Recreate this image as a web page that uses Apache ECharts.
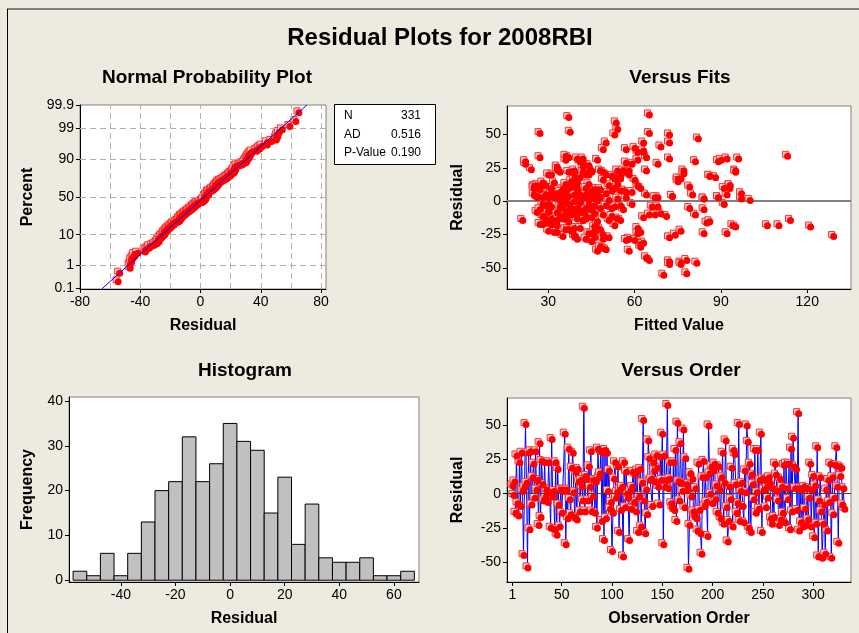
<!DOCTYPE html>
<html><head><meta charset="utf-8">
<script src="https://cdn.jsdelivr.net/npm/echarts@6/dist/echarts.min.js"></script>
<style>html,body{margin:0;padding:0;background:#EDEAE0}#c{width:859px;height:633px}</style>
</head><body><div id="c"></div>
<script>
const residuals = [
 6, -1, 9, -14, 28, -7, -16, 23, -9, 30,
 2, -45, 5, 51, 8, -54, 30, -26, 31, -8,
 12, 22, -3, 31, 3, 10, -23, 37, -17, 24,
 7, -5, 23, -2, 3, -6, 23, 1, -25, 40,
 -2, 2, -26, 23, -30, 18, -8, -24, 3, -14,
 2, 3, 44, -37, 3, -18, 33, -4, -15, 19,
 30, 1, -17, 16, -19, 18, 9, -13, 10, 5,
 -5, 63, -13, 13, 11, -5, 20, 5, 31, -13,
 -2, 10, -14, 9, -25, 33, 12, 15, 31, -20,
 30, -34, 32, -18, 30, 2, 17, -11, -6, -42,
 -14, 11, 23, -3, 1, 20, -28, 3, -12, 5,
 -46, 23, -10, 16, 0, -3, -34, 2, -11, 5,
 16, -6, 14, -13, 17, -28, -2, 18, -24, 8,
 54, -5, -29, 3, -15, 39, 26, 10, 11, -9,
 23, 17, 9, 28, 19, 5, -8, 27, 10, 44,
 -37, 28, 5, 10, 65, 4, 11, 23, -7, -10,
 23, -12, 32, -20, 52, 9, -5, 37, 8, 2,
 47, -10, 26, 7, 3, -55, -23, 15, -2, 11,
 -13, -16, 4, -18, -27, 22, -12, -29, -44, 12,
 24, -9, 12, -6, -31, 50, 15, 0, 20, -7,
 17, 22, -4, 6, -14, 20, 3, -18, 12, 30,
 -22, 8, 39, -10, -35, -20, 5, -4, 19, -24,
 32, 29, 7, -14, -7, 51, -20, 2, 8, -9,
 -21, 17, 1, 50, 38, -25, 22, -28, 14, 7,
 -4, 32, -14, 1, 32, -11, 10, 44, -28, 11,
 3, 10, -10, 5, -3, 12, 8, -18, -22, 4,
 -17, 22, 14, 2, -5, -23, 11, -19, 5, -14,
 21, -21, 22, 4, -4, 22, -26, 33, -13, 41,
 20, 4, 18, -12, 59, -27, 4, -21, 3, -24,
 5, -11, -23, 4, -19, -3, 22, -24, 3, 13,
 -32, 6, -22, 34, -46, -5, 12, -13, -47, -22,
 -8, -44, 3, -27, 10, -6, 22, -47, 12, -15,
 -3, 21, 34, 5, -36, 20, 13, 19, -8, 4, -11
];
const fitted = [
 33, 41, 27, 21, 22, 38, 30, 45, 36, 42,
 47, 72, 35, 27, 52, 78, 89, 39, 61, 26,
 29, 38, 44, 36, 57, 40, 32, 63, 28, 24,
 31, 48, 77, 37, 68, 43, 58, 34, 49, 60,
 30, 84, 35, 48, 45, 55, 39, 84, 42, 33,
 46, 89, 50, 47, 28, 53, 27, 66, 37, 86,
 41, 100, 31, 75, 46, 41, 35, 54, 93, 25,
 38, 37, 29, 44, 36, 52, 43, 64, 90, 40,
 59, 31, 114, 47, 39, 64, 26, 38, 47, 41,
 22, 48, 42, 106, 81, 44, 76, 34, 56, 64,
 42, 37, 95, 29, 51, 31, 40, 33, 63, 45,
 76, 39, 81, 60, 39, 50, 62, 36, 43, 80,
 49, 45, 32, 36, 75, 58, 28, 53, 44, 55,
 54, 40, 60, 30, 47, 49, 33, 62, 25, 69,
 54, 39, 46, 68, 55, 92, 33, 44, 53, 63,
 58, 59, 41, 37, 65, 73, 25, 64, 30, 49,
 56, 35, 72, 61, 37.5, 48, 79, 61, 40, 97,
 82, 67, 42, 57, 32, 70, 46, 75, 91, 38,
 43, 85, 26, 110, 72, 95, 34, 57, 78, 93,
 33, 46, 28, 84, 63, 72, 40, 35, 50, 42,
 55, 37, 31, 97, 51, 44, 26, 94, 38, 41,
 30, 45, 57, 65, 49, 39, 29, 53, 86, 45,
 92, 57, 34, 42, 37, 65, 47, 84, 56, 39,
 36, 53, 47, 53, 63, 74, 45, 43, 28, 59,
 34, 96, 55, 44, 40, 71, 25, 72, 49, 79,
 89, 43, 38, 31, 46, 51, 36, 33, 76, 40,
 27, 49, 40, 54, 35, 62, 38, 95, 47, 33,
 39, 48, 57, 37, 68, 44, 129, 37, 31, 69,
 58, 29, 88, 45, 53.5, 46, 41, 37, 32, 61,
 43, 52, 33, 26, 121, 55, 42, 92, 67, 36,
 62, 50, 38, 113, 81.5, 43, 93, 35, 72, 46,
 30, 65, 48, 51, 91, 27, 34, 76, 61, 86,
 44, 77, 36, 39, 50, 30, 54, 52, 41, 73, 28
];
// Histogram (bin centres, frequencies)
const histCenters = [-55,-50,-45,-40,-35,-30,-25,-20,-15,-10,-5,0,5,10,15,20,25,30,35,40,45,50,55,60,65];
const histCounts  = [2,1,6,1,6,13,20,22,32,22,26,35,31,29,15,23,8,17,5,4,4,5,1,1,2];
const histBinWidth = 5;
// Tick labels
const probTicks = [0.1, 1, 10, 50, 90, 99, 99.9];
const probTickLabels = ['0.1', '1', '10', '50', '90', '99', '99.9'];
const probGridLevels = [1, 10, 50, 90, 99];
const normXTicks = [-80, -40, 0, 40, 80];
const normXGrid = [-60, -40, -20, 0, 20, 40, 60, 80];
const fitsXTicks = [30, 60, 90, 120];
const residTicks = [-50, -25, 0, 25, 50];
const histXTicks = [-40, -20, 0, 20, 40, 60];
const histYTicks = [0, 10, 20, 30, 40];
const orderXTicks = [1, 50, 100, 150, 200, 250, 300];
const statsLabels = ['N', 'AD', 'P-Value'];
const statsValues = ['331', '0.516', '0.190'];

function invNorm(p){
 const a=[-3.969683028665376e+01,2.209460984245205e+02,-2.759285104469687e+02,1.383577518672690e+02,-3.066479806614716e+01,2.506628277459239e+00];
 const b=[-5.447609879822406e+01,1.615858368580409e+02,-1.556989798598866e+02,6.680131188771972e+01,-1.328068155288572e+01];
 const c=[-7.784894002430293e-03,-3.223964580411365e-01,-2.400758277161838e+00,-2.549732539343734e+00,4.374664141464968e+00,2.938163982698783e+00];
 const d=[7.784695709041462e-03,3.224671290700398e-01,2.445134137142996e+00,3.754408661907416e+00];
 const pl=0.02425, ph=1-pl; let q,r;
 if(p<pl){q=Math.sqrt(-2*Math.log(p));return (((((c[0]*q+c[1])*q+c[2])*q+c[3])*q+c[4])*q+c[5])/((((d[0]*q+d[1])*q+d[2])*q+d[3])*q+1);}
 if(p<=ph){q=p-0.5;r=q*q;return (((((a[0]*r+a[1])*r+a[2])*r+a[3])*r+a[4])*r+a[5])*q/(((((b[0]*r+b[1])*r+b[2])*r+b[3])*r+b[4])*r+1);}
 q=Math.sqrt(-2*Math.log(1-p));return -(((((c[0]*q+c[1])*q+c[2])*q+c[3])*q+c[4])*q+c[5])/((((d[0]*q+d[1])*q+d[2])*q+d[3])*q+1);
}

const n = residuals.length;
const sorted = residuals.slice().sort((a,b)=>a-b);
const probData = sorted.map((v,i)=>[v, invNorm((i+1-0.3)/(n+0.4))]);
const mean = residuals.reduce((s,v)=>s+v,0)/n;
const sd = Math.sqrt(residuals.reduce((s,v)=>s+(v-mean)*(v-mean),0)/(n-1));
const zTop = 3.11, zBot = -3.12;
const fitLine = [[mean+sd*zBot, zBot],[mean+sd*zTop, zTop]];
const fitsData = residuals.map((v,i)=>[fitted[i], v]);
const orderData = residuals.map((v,i)=>[i+1, v]);
const histData = histCenters.map((c,i)=>[c, histCounts[i]]);
const probTickZ = probTicks.map(p=>invNorm(p/100));

const FONT = 'Liberation Sans';
const lblStyle = {color:'#000', fontFamily:FONT, fontSize:14};
const nameStyle = {color:'#000', fontFamily:FONT, fontSize:16, fontWeight:'bold'};
const titleStyle = {fontFamily:FONT, fontWeight:'bold', fontSize:19, color:'#000'};

function axis(gi, min, max, ticks, fmt, extra){
  return Object.assign({
    type:'value', gridIndex:gi, min:min, max:max,
    axisLine:{show:true, onZero:false, lineStyle:{color:'#000', width:1}},
    axisTick:{show:true, length:4, customValues:ticks, lineStyle:{color:'#000'}},
    axisLabel:Object.assign({customValues:ticks, margin:6, formatter:fmt||(v=>String(v))}, lblStyle),
    splitLine:{show:false},
    nameLocation:'middle', nameTextStyle:nameStyle
  }, extra||{});
}

function markers(xi, yi, data){
  return [
    {type:'scatter', xAxisIndex:xi, yAxisIndex:yi, data:data, symbol:'rect', symbolSize:6,
     symbolOffset:[-1.5,-1.5], itemStyle:{color:'#ffd0d0', borderColor:'#ff3030', borderWidth:1, opacity:1}, z:4, silent:true, animation:false},
    {type:'scatter', xAxisIndex:xi, yAxisIndex:yi, data:data, symbol:'circle', symbolSize:7,
     symbolOffset:[0.5,0.5], itemStyle:{color:'#ff0000', opacity:1}, z:5, silent:true, animation:false}
  ];
}

const dashed = {color:'#b0b0b0', type:[6,4], width:1};
const probFmt = v => { for (let i=0;i<probTickZ.length;i++) if (Math.abs(probTickZ[i]-v)<1e-6) return probTickLabels[i]; return ''; };

const option = {
  backgroundColor:'#EDEAE0',
  animation:false,
  title:[
    {text:'Residual Plots for 2008RBI', left:440, top:26, textAlign:'center', padding:0, textStyle:{fontFamily:FONT, fontWeight:'bold', fontSize:24, color:'#000'}},
    {text:'Normal Probability Plot', left:207, top:68, textAlign:'center', padding:0, textStyle:titleStyle},
    {text:'Versus Fits', left:680, top:68, textAlign:'center', padding:0, textStyle:titleStyle},
    {text:'Histogram', left:245, top:361, textAlign:'center', padding:0, textStyle:titleStyle},
    {text:'Versus Order', left:681, top:361, textAlign:'center', padding:0, textStyle:titleStyle}
  ],
  grid:[
    {left:80, top:105, width:246, height:184, show:true, backgroundColor:'#fff', borderColor:'#808080', borderWidth:1},
    {left:507, top:106, width:344, height:183, show:true, backgroundColor:'#fff', borderColor:'#808080', borderWidth:1},
    {left:69, top:397, width:350, height:185, show:true, backgroundColor:'#fff', borderColor:'#808080', borderWidth:1},
    {left:507, top:398, width:344, height:184, show:true, backgroundColor:'#fff', borderColor:'#808080', borderWidth:1}
  ],
  xAxis:[
    axis(0, -80, 83.3, normXTicks, null, {name:'Residual', nameGap:29}),
    axis(1, 15.7, 135.2, fitsXTicks, null, {name:'Fitted Value', nameGap:29}),
    axis(2, -59, 69.2, histXTicks, null, {name:'Residual', nameGap:29}),
    axis(3, -4.4, 337.6, orderXTicks, null, {name:'Observation Order', nameGap:29})
  ],
  yAxis:[
    axis(0, zBot, zTop, probTickZ, probFmt, {name:'Percent', nameGap:44}),
    axis(1, -65.7, 71.3, residTicks, null, {name:'Residual', nameGap:41}),
    axis(2, -0.4, 40.9, histYTicks, null, {name:'Frequency', nameGap:33}),
    axis(3, -64.7, 70.1, residTicks, null, {name:'Residual', nameGap:41})
  ],
  series:[
    // probability plot grid (dashed)
    {type:'line', xAxisIndex:0, yAxisIndex:0, data:[], silent:true, z:1,
     markLine:{silent:true, symbol:'none', label:{show:false}, lineStyle:dashed, animation:false,
       data: normXGrid.map(v=>({xAxis:v})).concat(probGridLevels.map(p=>({yAxis:invNorm(p/100)})))}},
    ...markers(0, 0, probData),
    {type:'line', xAxisIndex:0, yAxisIndex:0, data:fitLine, showSymbol:false, symbol:'none',
     lineStyle:{color:'#0000ff', width:1}, z:6, silent:true},
    // versus fits
    {type:'line', xAxisIndex:1, yAxisIndex:1, data:[], silent:true, z:2,
     markLine:{silent:true, symbol:'none', label:{show:false}, lineStyle:{color:'#808080', width:2, type:'solid'}, animation:false, data:[{yAxis:0}]}},
    ...markers(1, 1, fitsData),
    // histogram
    {type:'custom', xAxisIndex:2, yAxisIndex:2, data:histData, silent:true, z:3,
     renderItem:(params, api)=>{
       const c = api.value(0), h = api.value(1);
       const p0 = api.coord([c - histBinWidth/2, h]);
       const p1 = api.coord([c + histBinWidth/2, 0]);
       return {type:'rect', shape:{x:p0[0], y:p0[1], width:p1[0]-p0[0], height:p1[1]-p0[1]},
               style:{fill:'#C0C0C0', stroke:'#000', lineWidth:1}};
     }},
    // versus order
    {type:'line', xAxisIndex:3, yAxisIndex:3, data:orderData, showSymbol:false, symbol:'none',
     lineStyle:{color:'#0000ff', width:1}, z:3, silent:true,
     markLine:{silent:true, symbol:'none', label:{show:false}, lineStyle:{color:'#404040', width:1, type:'solid'}, animation:false, data:[{yAxis:0}]}},
    ...markers(3, 3, orderData)
  ],
  graphic:[
    {type:'line', shape:{x1:7, y1:9, x2:859, y2:9}, style:{stroke:'#808080', lineWidth:2}, silent:true},
    {type:'line', shape:{x1:7.5, y1:9, x2:7.5, y2:633}, style:{stroke:'#000', lineWidth:1}, silent:true},
    {type:'rect', shape:{x:334.5, y:104.5, width:101, height:60}, style:{fill:'#fff', stroke:'#000', lineWidth:1}, silent:true},
    ...statsLabels.map((t,i)=>({type:'text', left:344, top:110+i*18.5, style:{text:t, font:'12px "Liberation Sans"', fill:'#000'}, silent:true})),
    ...statsValues.map((t,i)=>({type:'text', right:859-421, top:110+i*18.5, style:{text:t, font:'12px "Liberation Sans"', fill:'#000', textAlign:'right'}, silent:true}))
  ]
};
const chart = echarts.init(document.getElementById('c'), null, {renderer:'canvas'});
chart.setOption(option);
</script>
</body></html>
